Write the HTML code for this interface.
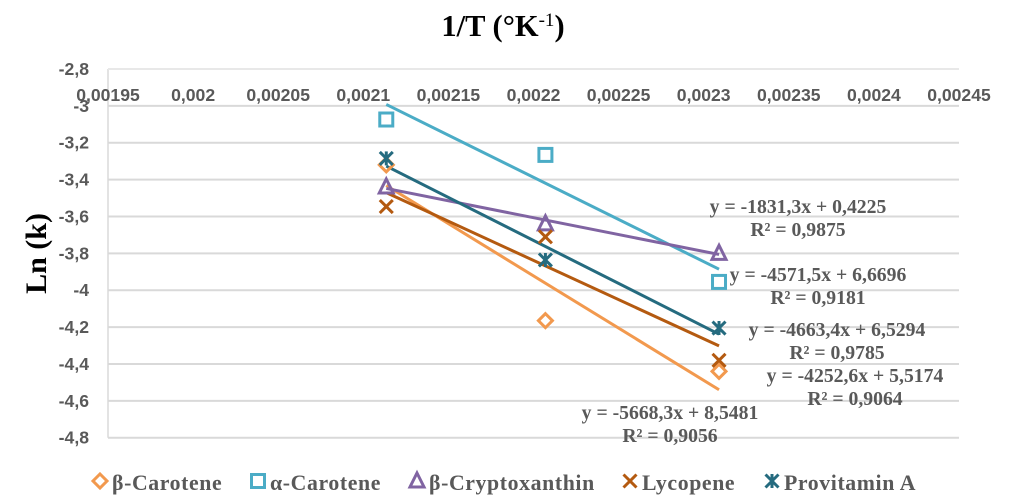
<!DOCTYPE html>
<html lang="en">
<head>
<meta charset="utf-8">
<title>Ln(k) vs 1/T</title>
<style>
html,body{margin:0;padding:0;background:#fff;}
svg{display:block;}
.tick{font-family:"Liberation Sans",sans-serif;font-weight:700;font-size:17.6px;fill:#595959;}
.eq{font-family:"Liberation Serif",serif;font-weight:700;font-size:19.7px;fill:#595959;text-anchor:middle;}
.leg{font-family:"Liberation Serif",serif;font-weight:700;font-size:21.8px;fill:#595959;letter-spacing:.6px;}
</style>
</head>
<body>
<svg id="chart" width="1015" height="503" viewBox="0 0 1015 503" xmlns="http://www.w3.org/2000/svg">
<rect width="1015" height="503" fill="#fff"/>
<g id="grid"></g>
<g id="xticks"></g>
<g id="yticks"></g>
<g id="trends"></g>
<g id="points"></g>
<text x="503" y="36" text-anchor="middle" font-family="'Liberation Serif',serif" font-weight="700" font-size="30.5" fill="#000">1/T (°K<tspan dy="-10" font-size="19" font-weight="400">-1</tspan><tspan dy="10">)</tspan></text>
<text transform="translate(46,253.5) rotate(-90)" text-anchor="middle" font-family="'Liberation Serif',serif" font-weight="700" font-size="30" fill="#000">Ln (k)</text>
<g>
<text class="eq" x="798" y="213">y = -1831,3x + 0,4225</text>
<text class="eq" x="798" y="236">R² = 0,9875</text>
<text class="eq" x="818" y="281">y = -4571,5x + 6,6696</text>
<text class="eq" x="818" y="304">R² = 0,9181</text>
<text class="eq" x="837" y="336">y = -4663,4x + 6,5294</text>
<text class="eq" x="837" y="359">R² = 0,9785</text>
<text class="eq" x="855" y="382">y = -4252,6x + 5,5174</text>
<text class="eq" x="855" y="405">R² = 0,9064</text>
<text class="eq" x="670" y="419">y = -5668,3x + 8,5481</text>
<text class="eq" x="670" y="442">R² = 0,9056</text>
</g>
<g id="legend">
<text class="leg" x="112" y="490">β-Carotene</text>
<text class="leg" x="270" y="490">α-Carotene</text>
<text class="leg" x="429" y="490">β-Cryptoxanthin</text>
<text class="leg" x="642" y="490">Lycopene</text>
<text class="leg" x="784" y="490">Provitamin A</text>
</g>
</svg>
<script>
const xTicks = [0.00195, 0.002, 0.00205, 0.0021, 0.00215, 0.0022, 0.00225, 0.0023, 0.00235, 0.0024, 0.00245];
const yTicks = [-2.8, -3, -3.2, -3.4, -3.6, -3.8, -4, -4.2, -4.4, -4.6, -4.8];
const temps = [0.0021135, 0.002207, 0.002309];
const betaCarotene = [-3.32, -4.165, -4.44];
const alphaCarotene = [-3.074, -3.266, -3.955];
const cryptoxanthin = [-3.44, -3.64, -3.80];
const lycopene = [-3.546, -3.71, -4.38];
const provitaminA = [-3.285, -3.836, -4.205];
const slopes = [-5668.3, -4571.5, -1831.3, -4252.6, -4663.4];
const intercepts = [8.5481, 6.6696, 0.4225, 5.5174, 6.5294];

const NS = 'http://www.w3.org/2000/svg';
const xScale = v => 108 + (v - 0.00195) / 0.0005 * 851;
const yScale = v => 69 + (-2.8 - v) / 2 * 368.7;
function mk(tag, attrs, parent) {
  const el = document.createElementNS(NS, tag);
  for (const k in attrs) el.setAttribute(k, attrs[k]);
  parent.appendChild(el);
  return el;
}
const grid = document.getElementById('grid');
const xt = document.getElementById('xticks');
const yt = document.getElementById('yticks');
const trends = document.getElementById('trends');
const pts = document.getElementById('points');
const legend = document.getElementById('legend');

const axisLine = mk('line', {x1: 108, x2: 108, y1: yScale(-2.8), y2: yScale(-4.8), stroke: '#e3e3e3', 'stroke-width': 2}, grid);



yTicks.forEach(t => {
  const l = mk('line', {x1: 108, x2: 959, y1: yScale(t), y2: yScale(t), stroke: t === -2.8 ? '#e8e8e8' : '#d9d9d9', 'stroke-width': 2}, grid);
  
  
  const tx = mk('text', {x: 89, y: yScale(t) + 6, 'text-anchor': 'end', class: 'tick'}, yt);
  
  
  tx.textContent = String(t).replace('.', ',');
});
xTicks.forEach(t => {
  const tx = mk('text', {x: xScale(t), y: 101, 'text-anchor': 'middle', class: 'tick'}, xt);
  
  
  tx.textContent = String(t).replace('.', ',');
});

function marker(shape, cx, cy, color, parent) {
  const g = mk('g', {fill: 'none', stroke: color, 'stroke-width': 3}, parent);
  if (shape === 'diamond') {
    mk('polygon', {points: [[cx, cy - 7], [cx + 7, cy], [cx, cy + 7], [cx - 7, cy]].join(' ')}, g);
  } else if (shape === 'square') {
    mk('rect', {x: cx - 6.5, y: cy - 6.5, width: 13, height: 13}, g);
  } else if (shape === 'triangle') {
    mk('polygon', {points: [[cx, cy - 8], [cx + 7, cy + 6], [cx - 7, cy + 6]].join(' ')}, g);
  } else {
    mk('line', {x1: cx - 6.5, y1: cy - 6.5, x2: cx + 6.5, y2: cy + 6.5}, g);
    mk('line', {x1: cx + 6.5, y1: cy - 6.5, x2: cx - 6.5, y2: cy + 6.5}, g);
    if (shape === 'star') mk('line', {x1: cx, y1: cy - 7, x2: cx, y2: cy + 7}, g);
  }
  return g;
}

const seriesNames = ['beta-carotene', 'alpha-carotene', 'cryptoxanthin', 'lycopene', 'provitamin-a'];
const seriesValues = [betaCarotene, alphaCarotene, cryptoxanthin, lycopene, provitaminA];
const shapes = ['diamond', 'square', 'triangle', 'x', 'star'];
const colors = ['#F2994E', '#4BACC6', '#8064A2', '#B45A10', '#256B7F'];
const legendX = [100, 258, 417, 630, 772];

seriesValues.forEach((vals, i) => {
  const x0 = temps[0], x1 = temps[temps.length - 1];
  const tl = mk('line', {
    x1: xScale(x0), y1: yScale(slopes[i] * x0 + intercepts[i]),
    x2: xScale(x1), y2: yScale(slopes[i] * x1 + intercepts[i]),
    stroke: colors[i], 'stroke-width': 3
  }, trends);
  
  
  vals.forEach((v, j) => {
    const m = marker(shapes[i], xScale(temps[j]), yScale(v), colors[i], pts);
    
    
  });
  const lm = marker(shapes[i], legendX[i], 481, colors[i], legend);
  
  
});
</script>
</body>
</html>
